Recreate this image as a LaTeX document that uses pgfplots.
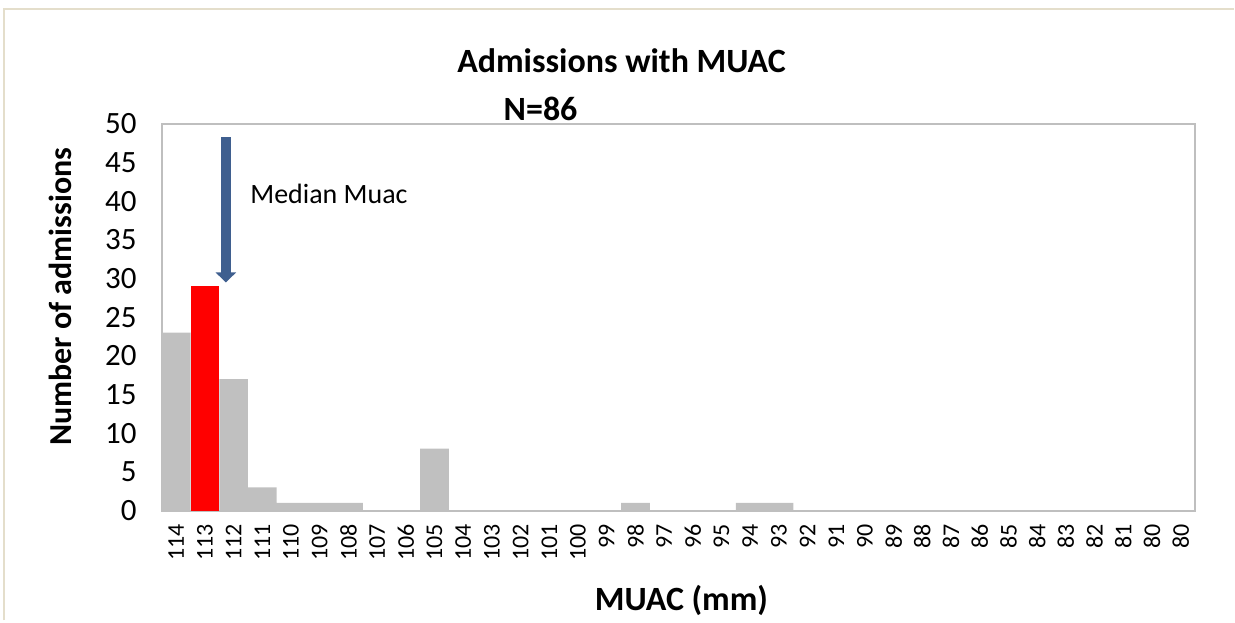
\documentclass[border=0pt]{standalone}
\usepackage{pgfplots}
\pgfplotsset{compat=1.18}
\usepackage{pgfplotstable}
\usepackage{fontspec}
\setmainfont{Carlito}
\usetikzlibrary{arrows.meta}

\definecolor{barGray}{HTML}{C0C0C0}
\definecolor{barRed}{HTML}{FF0000}
\definecolor{frameLine}{HTML}{BFBFBF}
\definecolor{outerLine}{HTML}{E4DECB}
\definecolor{arrowBlue}{HTML}{3F5F8F}

% Admissions by MUAC value (index 0 = 114 mm ... 35 = 80 mm)
\pgfplotstableread{
idx count
0 23
2 17
3 3
4 1
5 1
6 1
7 0
8 0
9 8
10 0
11 0
12 0
13 0
14 0
15 0
16 1
17 0
18 0
19 0
20 1
21 1
22 0
23 0
24 0
25 0
26 0
27 0
28 0
29 0
30 0
31 0
32 0
33 0
34 0
35 0
}\othermuac
% median class (113 mm)
\pgfplotstableread{
idx count
1 29
}\medianmuac

\begin{document}
\begin{tikzpicture}[x=0.5pt,y=0.5pt]
  % page extent and outer chart frame
  \path (0,0) rectangle (1235,621);
  \draw[outerLine, line width=1pt] (4,0) -- (4,612) -- (1235,612);

  \begin{axis}[
    at={(81pt,55pt)}, anchor=south west,
    scale only axis,
    width=517pt, height=193.5pt,
    xmin=-0.5, xmax=35.5,
    ymin=0, ymax=50,
    ytick={0,5,...,50},
    xtick={0,...,35},
    xticklabels={114,113,112,111,110,109,108,107,106,105,104,103,102,101,100,99,98,97,96,95,94,93,92,91,90,89,88,87,86,85,84,83,82,81,80,80},
    major tick length=0pt,
    axis line style={frameLine, line width=1pt},
    /pgf/number format/assume math mode=true,
    yticklabel style={font=\fontsize{15.5}{16}\selectfont, anchor=east, inner sep=0pt, xshift=-12.5pt},
    xticklabel style={font=\fontsize{12}{13}\selectfont, rotate=90, anchor=east, inner sep=0pt, xshift=-6.5pt},
    ybar, bar width=1, bar shift=0pt,
    clip=false,
  ]
    \addplot[fill=barGray, draw=none] table[x=idx, y=count] {\othermuac};
    \addplot[fill=barRed, draw=none] table[x=idx, y=count] {\medianmuac};

    % median marker
    \draw[arrowBlue, line width=5pt, -{Triangle[width=10pt, length=5pt]}]
      (axis cs:1.73,48.3) -- (axis cs:1.73,29.5);
    \node[anchor=west, inner sep=0pt, font=\fontsize{14}{16}\selectfont]
      at (axis cs:2.57,41) {Median Muac};
  \end{axis}

  % titles
  \node[font=\bfseries\fontsize{17}{18}\selectfont] at (622,560) {Admissions with MUAC};
  \node[font=\bfseries\fontsize{17}{18}\selectfont] at (541,512) {N=86};
  \node[font=\bfseries\fontsize{17}{18}\selectfont] at (682,20) {MUAC (mm)};
  \node[font=\bfseries\fontsize{16}{18}\selectfont, rotate=90] at (60,324) {Number of admissions};
\end{tikzpicture}
\end{document}
